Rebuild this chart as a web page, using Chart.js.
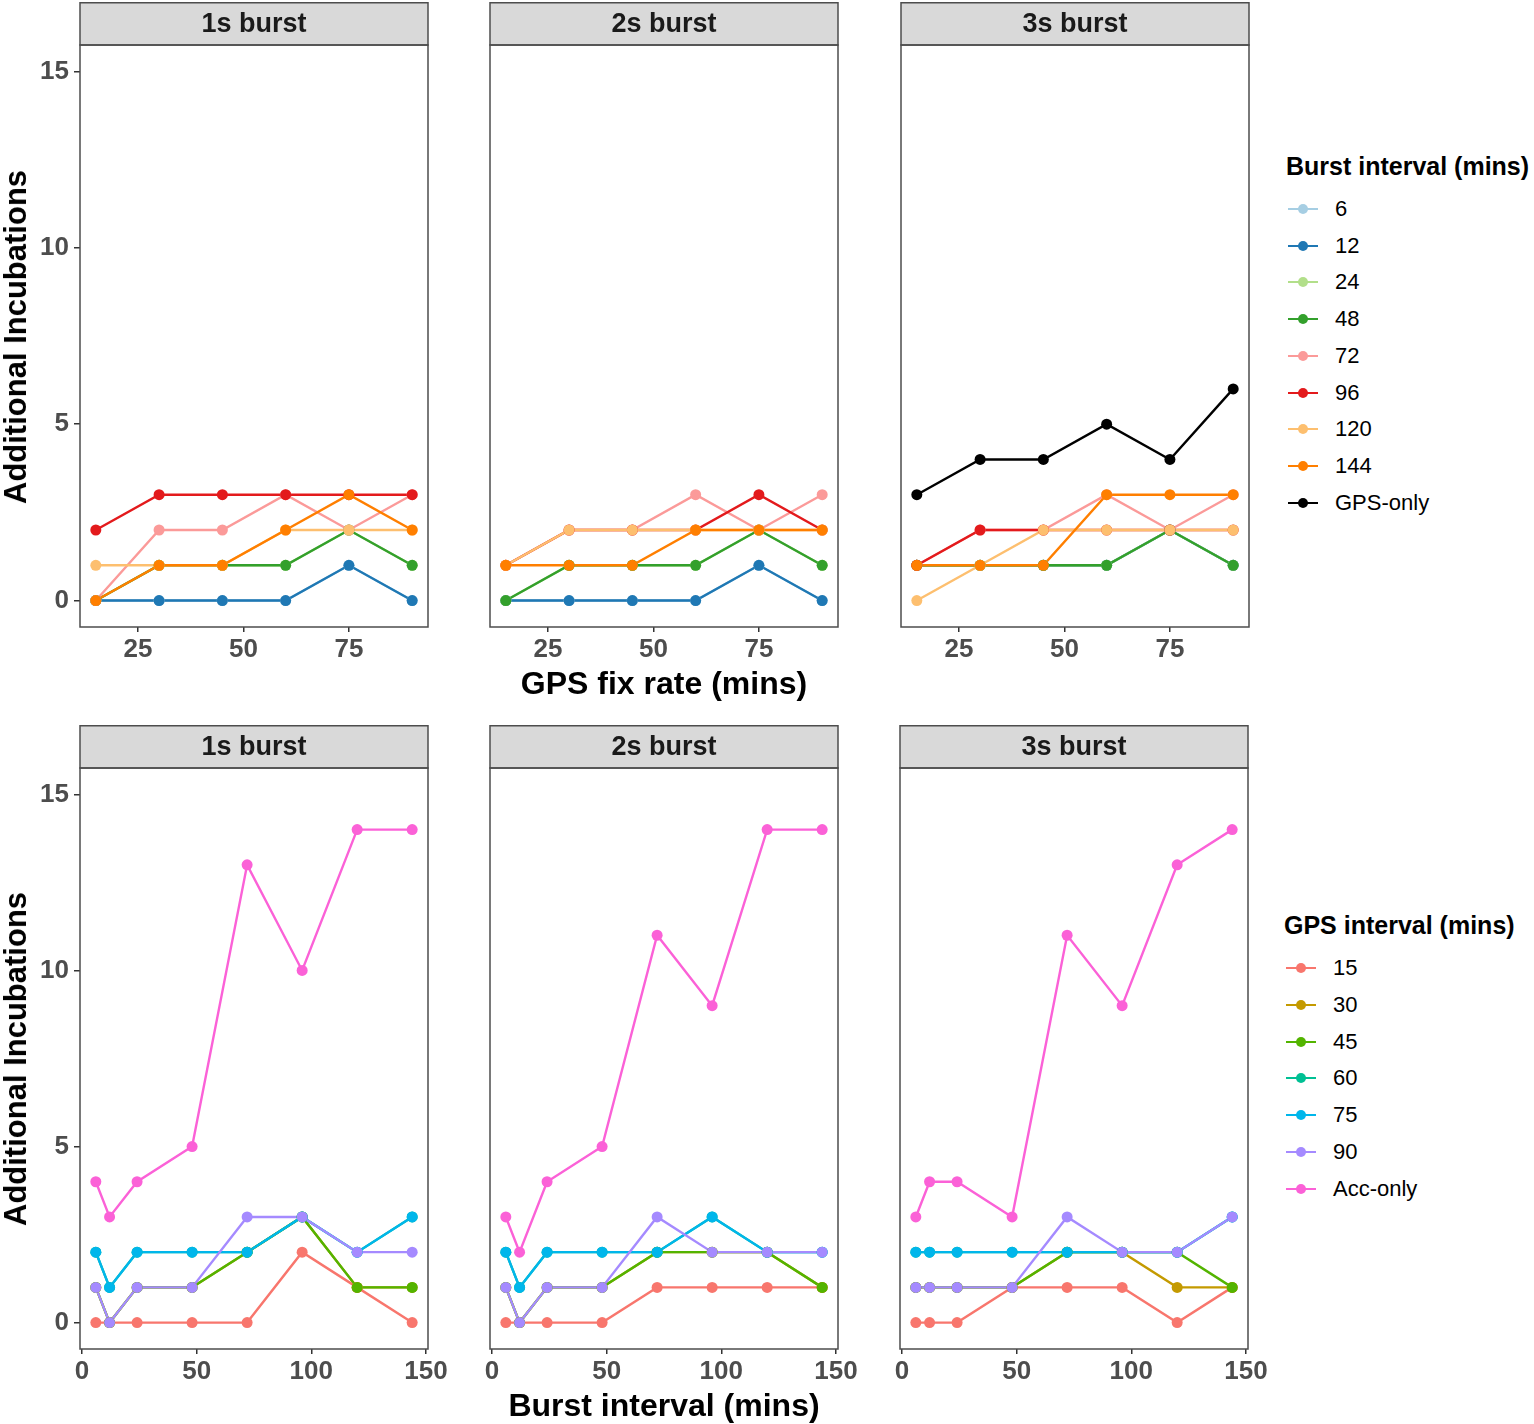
<!DOCTYPE html>
<html>
<head>
<meta charset="utf-8">
<script src="https://cdn.jsdelivr.net/npm/chart.js@4.4.0/dist/chart.umd.min.js"></script>
<style>
  html, body { margin: 0; padding: 0; background: #fff; }
  body { width: 1534px; height: 1424px; position: relative; overflow: hidden;
         font-family: 'Liberation Sans', Arial, Helvetica, sans-serif; }
  canvas { position: absolute; }
  .ytitle, .xtitle { position: absolute; font-weight: bold; font-size: 31px; color: #000; white-space: nowrap; }
  .xtitle { font-size: 32px; }
  .ytitle { transform: translate(-50%, -50%) rotate(-90deg); }
  .xtitle { transform: translate(-50%, -50%); }
  .lg-title { position: absolute; font-weight: bold; font-size: 25px; color: #000; white-space: nowrap; transform: translateY(-50%); }
  .lg-item { position: absolute; height: 30px; transform: translateY(-50%); white-space: nowrap; }
  .lg-line { position: absolute; left: 0; top: 14px; width: 30px; height: 2px; }
  .lg-dot { position: absolute; left: 10px; top: 10px; width: 10px; height: 10px; border-radius: 50%; }
  .lg-text { position: absolute; left: 47px; top: 0; line-height: 30px; font-size: 22px; color: #000; }
</style>
</head>
<body>
<script>
(function () {
  'use strict';

  // ---- data ----
  var GPS_FIX = [15, 30, 45, 60, 75, 90];
  var BURST_INT = [6, 12, 24, 48, 72, 96, 120, 144];
  var FIX_TICKS = [25, 50, 75];
  var BURST_TICKS = [0, 50, 100, 150];
  var Y_TICKS = [0, 5, 10, 15];
  var FACETS = ['1s burst', '2s burst', '3s burst'];

  var TOP_NAMES = ['6', '12', '24', '48', '72', '96', '120', '144', 'GPS-only'];
  var TOP_COLORS = ['#A6CEE3', '#1F78B4', '#B2DF8A', '#33A02C', '#FB9A99', '#E31A1C', '#FDBF6F', '#FF7F00', '#000000'];

  // one row per series, same order as TOP_NAMES
  var TOP_1S = [
    [0, 0, 0, 0, 1, 0],
    [0, 0, 0, 0, 1, 0],
    [0, 1, 1, 1, 2, 1],
    [0, 1, 1, 1, 2, 1],
    [0, 2, 2, 3, 2, 3],
    [2, 3, 3, 3, 3, 3],
    [1, 1, 1, 2, 2, 2],
    [0, 1, 1, 2, 3, 2],
    null
  ];
  var TOP_2S = [
    [0, 0, 0, 0, 1, 0],
    [0, 0, 0, 0, 1, 0],
    [0, 1, 1, 1, 2, 1],
    [0, 1, 1, 1, 2, 1],
    [1, 2, 2, 3, 2, 3],
    [1, 2, 2, 2, 3, 2],
    [1, 2, 2, 2, 2, 2],
    [1, 1, 1, 2, 2, 2],
    null
  ];
  var TOP_3S = [
    [1, 1, 1, 1, 2, 1],
    [1, 1, 1, 1, 2, 1],
    [1, 1, 1, 1, 2, 1],
    [1, 1, 1, 1, 2, 1],
    [1, 2, 2, 3, 2, 3],
    [1, 2, 2, 2, 2, 2],
    [0, 1, 2, 2, 2, 2],
    [1, 1, 1, 3, 3, 3],
    [3, 4, 4, 5, 4, 6]
  ];

  var BOT_NAMES = ['15', '30', '45', '60', '75', '90', 'Acc-only'];
  var BOT_COLORS = ['#F8766D', '#C49A00', '#53B400', '#00C094', '#00B6EB', '#A58AFF', '#FB61D7'];

  var BOT_1S = [
    [0, 0, 0, 0, 0, 2, 1, 0],
    [1, 0, 1, 1, 2, 3, 1, 1],
    [1, 0, 1, 1, 2, 3, 1, 1],
    [2, 1, 2, 2, 2, 3, 2, 3],
    [2, 1, 2, 2, 2, 3, 2, 3],
    [1, 0, 1, 1, 3, 3, 2, 2],
    [4, 3, 4, 5, 13, 10, 14, 14]
  ];
  var BOT_2S = [
    [0, 0, 0, 0, 1, 1, 1, 1],
    [1, 0, 1, 1, 2, 2, 2, 1],
    [1, 0, 1, 1, 2, 2, 2, 1],
    [2, 1, 2, 2, 2, 3, 2, 2],
    [2, 1, 2, 2, 2, 3, 2, 2],
    [1, 0, 1, 1, 3, 2, 2, 2],
    [3, 2, 4, 5, 11, 9, 14, 14]
  ];
  var BOT_3S = [
    [0, 0, 0, 1, 1, 1, 0, 1],
    [1, 1, 1, 1, 2, 2, 1, 1],
    [1, 1, 1, 1, 2, 2, 2, 1],
    [2, 2, 2, 2, 2, 2, 2, 3],
    [2, 2, 2, 2, 2, 2, 2, 3],
    [1, 1, 1, 1, 3, 2, 2, 3],
    [3, 4, 4, 3, 11, 9, 13, 14]
  ];

  // ---- layout ----
  var FONT = "'Liberation Sans', Arial, Helvetica, sans-serif";
  var STRIP_H = 43;
  var YAXIS_W = 80;
  var XAXIS_H = 45;
  var PAD_R = 30;
  var PANEL_W = 348;

  var stripPlugin = {
    id: 'strip',
    afterDraw: function (chart, args, opts) {
      var ctx = chart.ctx;
      var a = chart.chartArea;
      ctx.save();
      ctx.fillStyle = '#D9D9D9';
      ctx.fillRect(a.left, a.top - STRIP_H + 0.5, a.right - a.left, STRIP_H);
      ctx.strokeStyle = '#4D4D4D';
      ctx.lineWidth = 1.5;
      ctx.strokeRect(a.left, a.top - STRIP_H + 0.75, a.right - a.left, STRIP_H - 0.75);
      ctx.strokeRect(a.left, a.top, a.right - a.left, a.bottom - a.top);
      ctx.fillStyle = '#1A1A1A';
      ctx.font = 'bold 27px ' + FONT;
      ctx.textAlign = 'center';
      ctx.textBaseline = 'middle';
      ctx.fillText(opts.text, (a.left + a.right) / 2, a.top - STRIP_H / 2 + 1);
      ctx.restore();
    }
  };

  function fixedTicks(list) {
    return function (scale) {
      scale.ticks = list.map(function (v) { return { value: v }; });
    };
  }

  function makePanel(opt) {
    var cv = document.createElement('canvas');
    var w = YAXIS_W + PANEL_W + PAD_R;
    var h = STRIP_H + opt.panelH + XAXIS_H;
    cv.width = w; cv.height = h;
    cv.style.left = (opt.left - YAXIS_W) + 'px';
    cv.style.top = opt.top + 'px';
    cv.style.width = w + 'px';
    cv.style.height = h + 'px';
    document.body.appendChild(cv);

    var lines = [], points = [];
    opt.values.forEach(function (vals, i) {
      if (!vals) return;
      var pts = vals.map(function (v, j) { return { x: opt.xs[j], y: v }; });
      lines.push({
        label: opt.names[i], data: pts, borderColor: opt.colors[i], borderWidth: 2.4,
        pointRadius: 0, tension: 0, fill: false, order: 200 - i
      });
      points.push({
        label: opt.names[i] + ' pts', data: pts, showLine: false,
        pointRadius: 5.5, pointBackgroundColor: opt.colors[i], pointBorderWidth: 0,
        order: 100 - i
      });
    });

    var tickFont = { family: FONT, size: 26, weight: 'bold' };

    return new Chart(cv.getContext('2d'), {
      type: 'line',
      data: { datasets: lines.concat(points) },
      plugins: [stripPlugin],
      options: {
        responsive: false,
        animation: false,
        events: [],
        layout: { padding: { top: STRIP_H, right: PAD_R, left: 0, bottom: 0 } },
        plugins: {
          legend: { display: false },
          tooltip: { enabled: false },
          strip: { text: opt.facet }
        },
        scales: {
          x: {
            type: 'linear', min: opt.xmin, max: opt.xmax,
            afterBuildTicks: fixedTicks(opt.xticks),
            afterFit: function (s) { s.height = XAXIS_H; },
            border: { display: false },
            grid: { drawOnChartArea: false, drawTicks: true, tickLength: 5, color: '#333333', lineWidth: 1.5 },
            ticks: { font: tickFont, color: '#4D4D4D', padding: 2, maxRotation: 0, autoSkip: false,
                     callback: function (v) { return v; } }
          },
          y: {
            type: 'linear', min: -0.75, max: 15.75,
            afterBuildTicks: fixedTicks(Y_TICKS),
            afterFit: function (s) { s.width = YAXIS_W; },
            border: { display: false },
            grid: { display: opt.showY, drawOnChartArea: false, drawTicks: true, tickLength: 6, color: '#333333', lineWidth: 1.5 },
            ticks: { display: opt.showY, font: tickFont, color: '#4D4D4D', padding: 5,
                     callback: function (v) { return v; } }
          }
        }
      }
    });
  }

  var TOP_VALUES = [TOP_1S, TOP_2S, TOP_3S];
  var BOT_VALUES = [BOT_1S, BOT_2S, BOT_3S];
  var TOP_LEFTS = [80, 490, 901];
  var BOT_LEFTS = [80, 490, 900];

  FACETS.forEach(function (f, k) {
    makePanel({
      left: TOP_LEFTS[k], top: 2, panelH: 582, facet: f, showY: k === 0,
      xs: GPS_FIX, xmin: 11.25, xmax: 93.75, xticks: FIX_TICKS,
      names: TOP_NAMES, colors: TOP_COLORS, values: TOP_VALUES[k]
    });
    makePanel({
      left: BOT_LEFTS[k], top: 725, panelH: 581, facet: f, showY: k === 0,
      xs: BURST_INT, xmin: -0.9, xmax: 150.9, xticks: BURST_TICKS,
      names: BOT_NAMES, colors: BOT_COLORS, values: BOT_VALUES[k]
    });
  });

  // ---- axis titles ----
  function addText(cls, text, x, y) {
    var d = document.createElement('div');
    d.className = cls;
    d.textContent = text;
    d.style.left = x + 'px';
    d.style.top = y + 'px';
    document.body.appendChild(d);
  }
  addText('ytitle', 'Additional Incubations', 16, 337);
  addText('ytitle', 'Additional Incubations', 16, 1059);
  addText('xtitle', 'GPS fix rate (mins)', 664, 683);
  addText('xtitle', 'Burst interval (mins)', 664, 1405);

  // ---- legends ----
  function addLegend(x, titleY, firstY, step, title, names, colors) {
    addText('lg-title', title, x, titleY);
    names.forEach(function (n, i) {
      var it = document.createElement('div');
      it.className = 'lg-item';
      it.style.left = (x + 2) + 'px';
      it.style.top = (firstY + i * step) + 'px';
      it.innerHTML = '<div class="lg-line" style="background:' + colors[i] + '"></div>' +
        '<div class="lg-dot" style="background:' + colors[i] + '"></div>' +
        '<div class="lg-text">' + n + '</div>';
      document.body.appendChild(it);
    });
  }
  addLegend(1286, 166, 209, 36.7, 'Burst interval (mins)', TOP_NAMES, TOP_COLORS);
  addLegend(1284, 925, 968, 36.8, 'GPS interval (mins)', BOT_NAMES, BOT_COLORS);
})();
</script>
</body>
</html>
